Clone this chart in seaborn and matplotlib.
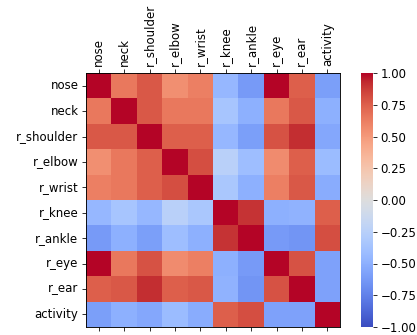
import numpy as np
import pandas as pd
import matplotlib
matplotlib.use('Agg')
import matplotlib.pyplot as plt
import seaborn as sns

# Nazwy zmiennych
columns = ['nose', 'neck', 'r_shoulder', 'r_elbow', 'r_wrist',
           'r_knee', 'r_ankle', 'r_eye', 'r_ear', 'activity']

# Macierz korelacji
row_nose = [1.00, 0.65, 0.78, 0.55, 0.62, -0.45, -0.62, 1.00, 0.75, -0.60]
row_neck = [0.65, 1.00, 0.78, 0.65, 0.65, -0.35, -0.50, 0.65, 0.78, -0.50]
row_r_shoulder = [0.78, 0.78, 1.00, 0.75, 0.75, -0.45, -0.60, 0.80, 0.92, -0.55]
row_r_elbow = [0.55, 0.65, 0.75, 1.00, 0.82, -0.25, -0.40, 0.57, 0.75, -0.42]
row_r_wrist = [0.62, 0.65, 0.75, 0.82, 1.00, -0.33, -0.50, 0.62, 0.78, -0.52]
row_r_knee = [-0.45, -0.35, -0.45, -0.25, -0.33, 1.00, 0.90, -0.50, -0.48, 0.75]
row_r_ankle = [-0.62, -0.50, -0.60, -0.40, -0.50, 0.90, 1.00, -0.62, -0.65, 0.82]
row_r_eye = [1.00, 0.65, 0.80, 0.57, 0.62, -0.50, -0.62, 1.00, 0.80, -0.58]
row_r_ear = [0.75, 0.78, 0.92, 0.75, 0.78, -0.48, -0.65, 0.80, 1.00, -0.58]
row_activity = [-0.60, -0.50, -0.55, -0.42, -0.52, 0.75, 0.82, -0.58, -0.58, 1.00]

corr = pd.DataFrame([row_nose, row_neck, row_r_shoulder, row_r_elbow, row_r_wrist,
                     row_r_knee, row_r_ankle, row_r_eye, row_r_ear, row_activity],
                    index=columns, columns=columns)

cbar_ticks = [-1, -0.75, -0.5, -0.25, 0, 0.25, 0.5, 0.75, 1]

W, H = 417, 335
DPI = 72
plt.rcParams['font.size'] = 11.8
fig = plt.figure(figsize=(W / DPI, H / DPI), dpi=DPI)
ax = fig.add_axes([86 / W, (H - 327) / H, 254 / W, 254 / H])
cax = fig.add_axes([361 / W, (H - 327) / H, 12 / W, 254 / H])

sns.heatmap(corr, ax=ax, cbar_ax=cax, cmap='coolwarm', vmin=-1, vmax=1)

# Etykiety osi X na górze (jak matshow)
ax.xaxis.tick_top()
ax.tick_params(axis='x', top=True, bottom=True, labeltop=True, labelbottom=False,
               rotation=90, length=4, labelsize=11.8)
ax.tick_params(axis='y', left=True, rotation=0, length=4, labelsize=11.8)
for s in ax.spines.values():
    s.set_visible(True)
    s.set_linewidth(0.9)
cax.set_yticks(cbar_ticks)
cax.set_yticklabels([f'{v:.2f}'.replace('-', '\u2212') for v in cbar_ticks])
cax.tick_params(length=4, labelsize=11.8)

fig.savefig('out.png', dpi=DPI)
